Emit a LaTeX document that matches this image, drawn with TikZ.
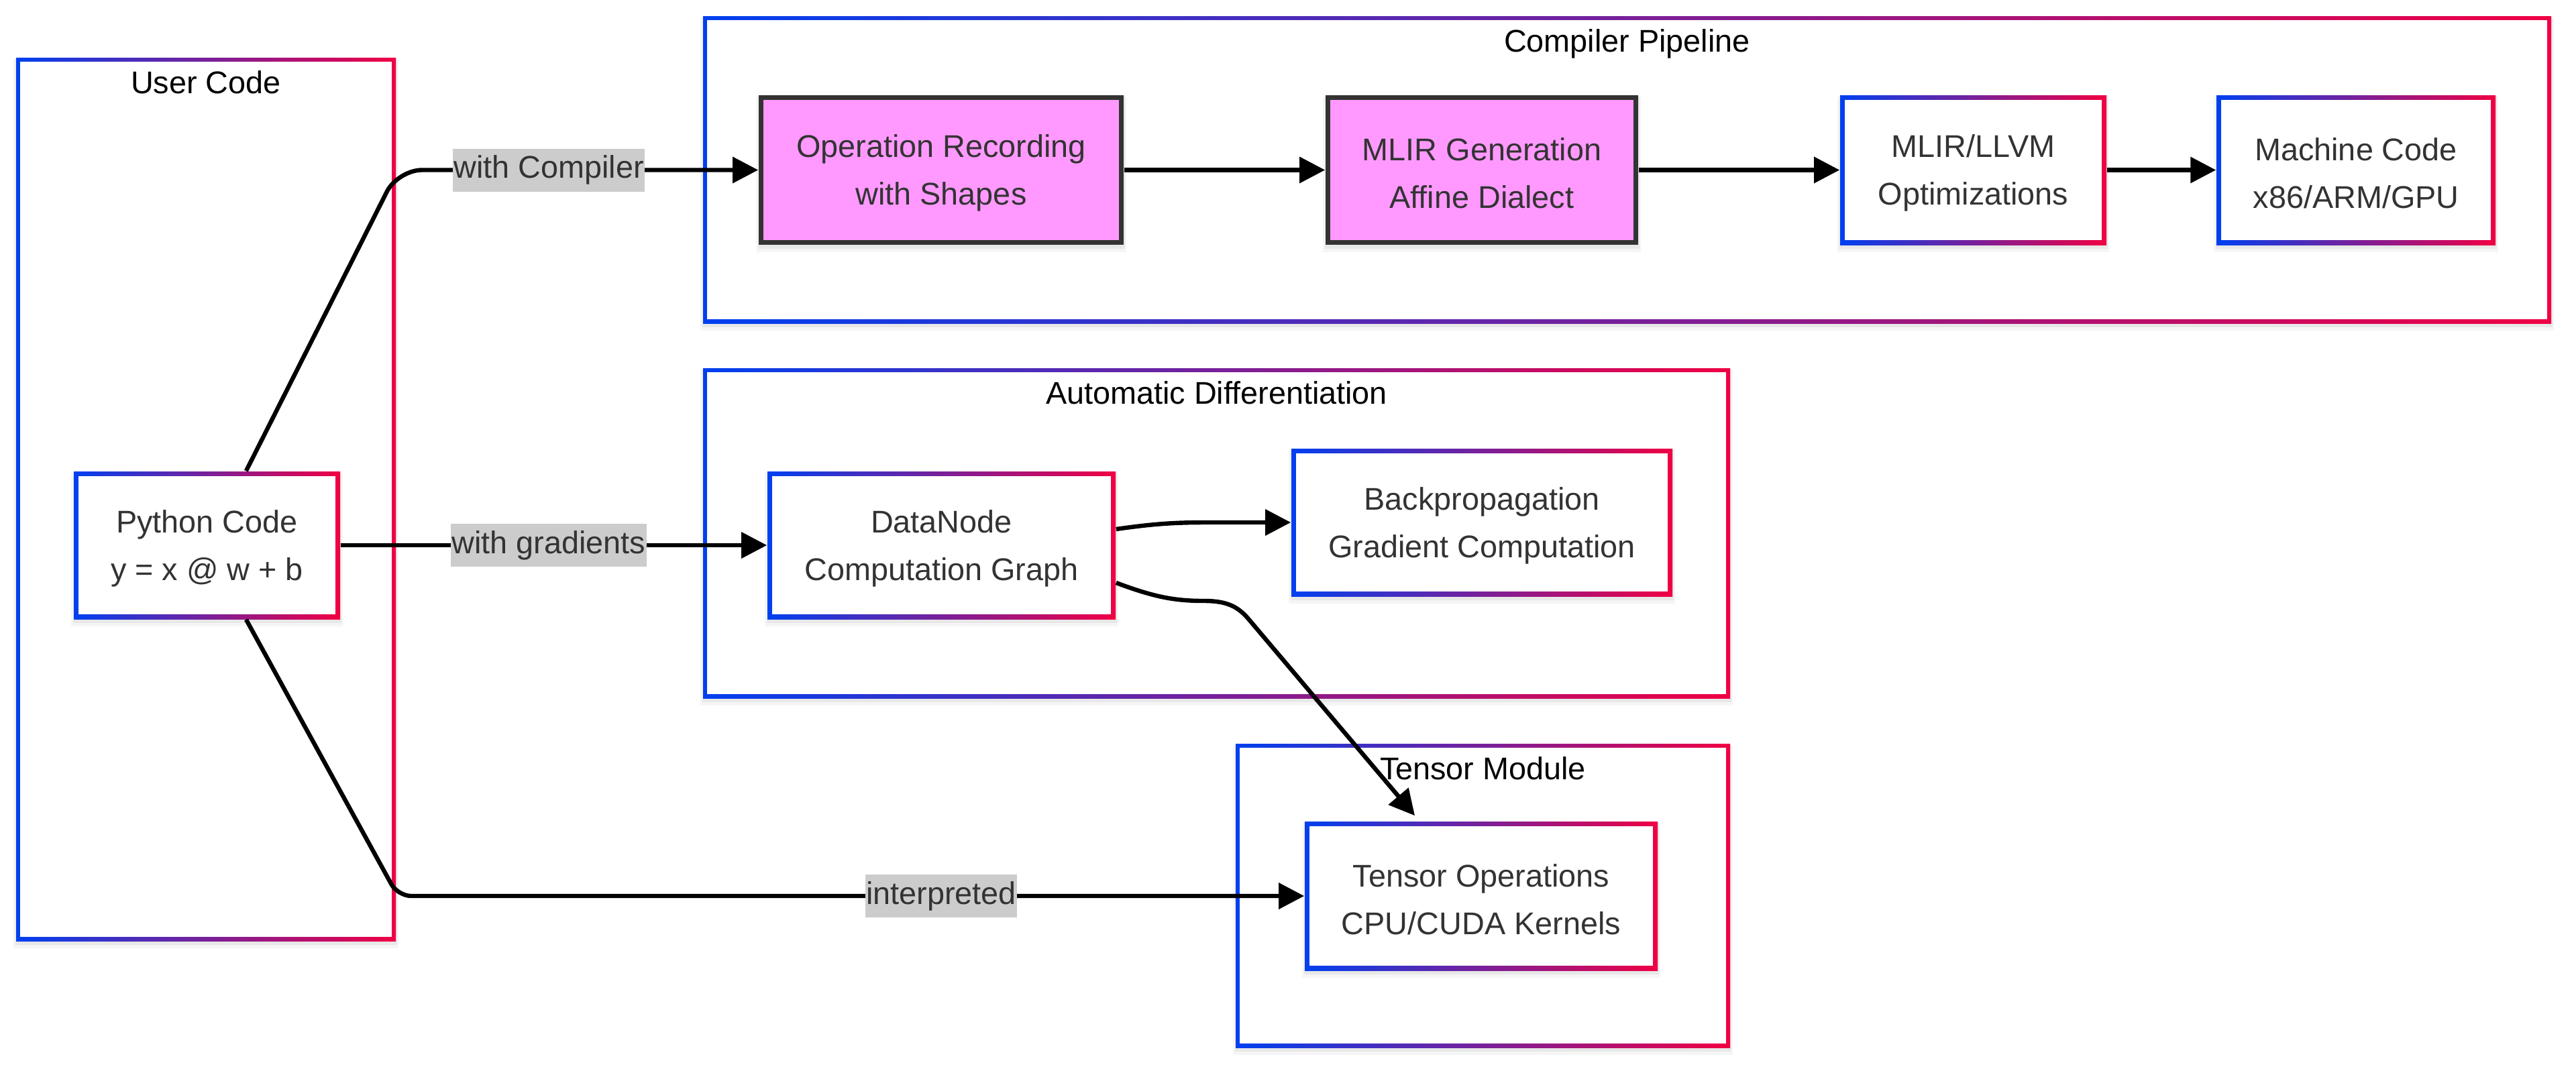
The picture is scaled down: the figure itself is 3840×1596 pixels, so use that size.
\documentclass[tikz,border=0pt]{standalone}
\usepackage{fontspec}
\setmainfont{Liberation Sans}
\usetikzlibrary{arrows.meta,fit}
\definecolor{gblue}{RGB}{0,64,240}
\definecolor{gred}{RGB}{240,0,68}
\definecolor{ntxt}{HTML}{333333}
\definecolor{pinkf}{HTML}{FF99FF}
\definecolor{labbg}{HTML}{CCCCCC}
% soft shadow: x1 y1 x2 y2
\newcommand\softshadow[4]{%
  \fill[black,opacity=.04] ({#1-4},{#2+2}) rectangle ({#3+4},{#4+11});
  \fill[black,opacity=.05] ({#1-1},{#2+1}) rectangle ({#3+2},{#4+6});
}
% gradient framed box: name x1 y1 x2 y2 border
\newcommand\gradbox[6]{%
  \softshadow{#2}{#3}{#4}{#5}
  \shade[left color=gblue,right color=gred] (#2,#3) rectangle (#4,#5);
  \fill[white] ({#2+#6},{#3+#6}) rectangle ({#4-#6},{#5-#6});
  \path (#2,#3) coordinate (#1-nw) (#4,#5) coordinate (#1-se);
  \node[fit=(#1-nw)(#1-se),inner sep=0pt] (#1) {};
}
% pink box: name x1 y1 x2 y2
\newcommand\pinkbox[5]{%
  \softshadow{#2}{#3}{#4}{#5}
  \filldraw[fill=pinkf,draw=ntxt,line width=1.75pt] ({#2+3.5},{#3+3.5}) rectangle ({#4-3.5},{#5-3.5});
  \path (#2,#3) coordinate (#1-nw) (#4,#5) coordinate (#1-se);
  \node[fit=(#1-nw)(#1-se),inner sep=0pt] (#1) {};
}
\begin{document}
\begin{tikzpicture}[x=0.25pt,y=-0.25pt,
  basefont/.style={font=\fontsize{11.7}{17.75}\selectfont},
  ntext/.style={basefont,text=ntxt,align=center,inner sep=0pt,yshift=-1.2pt},
  ctitle/.style={basefont,text=black,inner sep=0pt,anchor=base},
  elab/.style={basefont,fill=labbg,text=ntxt,inner xsep=0.4pt,inner ysep=0pt,minimum height=16pt},
  arr/.style={line width=1.6pt,draw=black,-{Triangle[length=9.5pt,width=9.5pt]}}]
\useasboundingbox (0,0) rectangle (3840,1596);
\fill[white] (0,0) rectangle (3840,1596);

% clusters
\gradbox{uc}{24}{86}{590}{1403}{6}
\gradbox{cp}{1048}{24}{3803}{482}{6}
\gradbox{ad}{1048}{549}{2579}{1041}{6}
\gradbox{tm}{1842}{1109}{2579}{1562}{6}
\node[ctitle] (uct) at (307,139) {User Code};
\node[ctitle] (cpt) at (2425.5,77) {Compiler Pipeline};
\node[ctitle] (adt) at (1813.5,602) {Automatic Differentiation};
\node[ctitle] (tmt) at (2210.5,1162) {Tensor Module};

% nodes
\gradbox{py}{110}{703}{507}{923}{7}
\pinkbox{op}{1131}{142}{1675}{365}
\pinkbox{mg}{1976}{142}{2442}{365}
\gradbox{ml}{2743}{142}{3140}{365}{7}
\gradbox{mc}{3304}{142}{3720}{365}{7}
\gradbox{dn}{1144}{703}{1663}{923}{7}
\gradbox{bp}{1925}{669}{2493}{889}{7}
\gradbox{to}{1945}{1225}{2471}{1447}{7}

\node[ntext] (pyt) at (py.center) {Python Code\\y = x @ w + b};
\node[ntext] (opt) at (op.center) {Operation Recording\\with Shapes};
\node[ntext] (mgt) at (mg.center) {MLIR Generation\\Affine Dialect};
\node[ntext] (mlt) at (ml.center) {MLIR/LLVM\\Optimizations};
\node[ntext] (mct) at (mc.center) {Machine Code\\x86/ARM/GPU};
\node[ntext] (dnt) at (dn.center) {DataNode\\Computation Graph};
\node[ntext] (bpt) at (bp.center) {Backpropagation\\Gradient Computation};
\node[ntext] (tot) at (to.center) {Tensor Operations\\CPU/CUDA Kernels};

% connectors
\coordinate (k1) at (593,0);
\draw[arr,rounded corners=9pt] ([xshift=14.6pt]py.north) -- (op.west -| k1) -- (op.west);
\draw[arr] (py.east) -- (dn.west);
\draw[arr,rounded corners=5pt] ([xshift=14.6pt]py.south) -- (to.west -| k1) -- (to.west);
\draw[arr] (op.east) -- (mg.west);
\draw[arr] (mg.east) -- (ml.west);
\draw[arr] (ml.east) -- (mc.west);
\coordinate (b1) at (1800,779);
\draw[arr] ([yshift=6pt]dn.east) .. controls (1720,781) and (1750,779) .. (b1) -- (bp.west);
\coordinate (t1) at (1795,896);
\coordinate (t2) at (1862,924);
\draw[arr] ([yshift=-14pt]dn.east) .. controls (1720,890) and (1750,896) .. (t1)
  .. controls (1830,896) and (1846,905) .. (t2) -- ([xshift=-24.75pt,yshift=2pt]to.north);

% edge labels
\node[elab] (l1) at (818,253.5) {with Compiler};
\node[elab] (l2) at (818,813) {with gradients};
\node[elab] (l3) at (1403,1336) {interpreted};
\end{tikzpicture}
\end{document}
